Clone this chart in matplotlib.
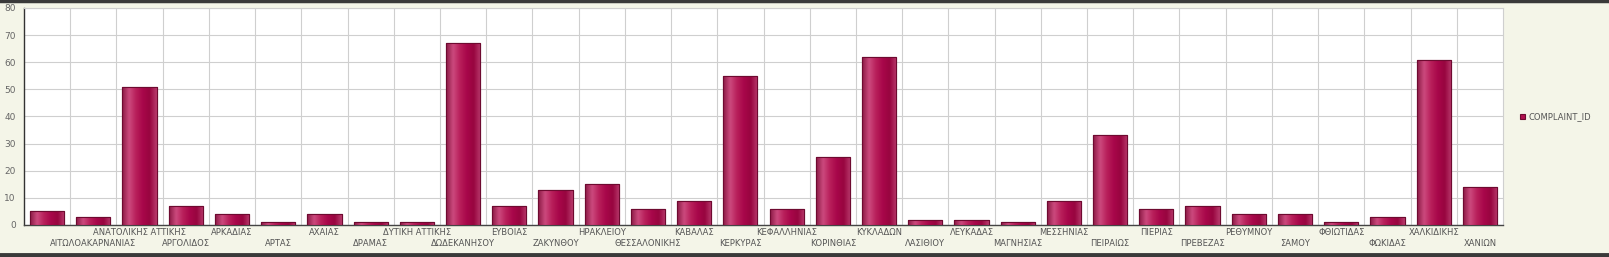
import numpy as np
import matplotlib
matplotlib.use("Agg")
import matplotlib.pyplot as plt
from matplotlib.colors import LinearSegmentedColormap
from matplotlib.patches import Rectangle
from matplotlib.lines import Line2D

# ==============================
# Data
# ==============================
prefectures = [
    "", "ΑΙΤΩΛΟΑΚΑΡΝΑΝΙΑΣ", "ΑΝΑΤΟΛΙΚΗΣ ΑΤΤΙΚΗΣ", "ΑΡΓΟΛΙΔΟΣ", "ΑΡΚΑΔΙΑΣ",
    "ΑΡΤΑΣ", "ΑΧΑΙΑΣ", "ΔΡΑΜΑΣ", "ΔΥΤΙΚΗ ΑΤΤΙΚΗΣ", "ΔΩΔΕΚΑΝΗΣΟΥ",
    "ΕΥΒΟΙΑΣ", "ΖΑΚΥΝΘΟΥ", "ΗΡΑΚΛΕΙΟΥ", "ΘΕΣΣΑΛΟΝΙΚΗΣ", "ΚΑΒΑΛΑΣ",
    "ΚΕΡΚΥΡΑΣ", "ΚΕΦΑΛΛΗΝΙΑΣ", "ΚΟΡΙΝΘΙΑΣ", "ΚΥΚΛΑΔΩΝ", "ΛΑΣΙΘΙΟΥ",
    "ΛΕΥΚΑΔΑΣ", "ΜΑΓΝΗΣΙΑΣ", "ΜΕΣΣΗΝΙΑΣ", "ΠΕΙΡΑΙΩΣ", "ΠΙΕΡΙΑΣ",
    "ΠΡΕΒΕΖΑΣ", "ΡΕΘΥΜΝΟΥ", "ΣΑΜΟΥ", "ΦΘΙΩΤΙΔΑΣ", "ΦΩΚΙΔΑΣ",
    "ΧΑΛΚΙΔΙΚΗΣ", "ΧΑΝΙΩΝ",
]
complaints = [
    5, 3, 51, 7, 4, 1, 4, 1, 1, 67,
    7, 13, 15, 6, 9, 55, 6, 25, 62, 2,
    2, 1, 9, 33, 6, 7, 4, 4, 1, 3,
    61, 14,
]
series_name = "COMPLAINT_ID"
y_ticks = [0, 10, 20, 30, 40, 50, 60, 70, 80]

# ==============================
# Figure
# ==============================
bg = "#f4f5e8"
fig = plt.figure(figsize=(16.09, 2.57), dpi=100, facecolor=bg)
ax = fig.add_axes([24 / 1609, 1 - 225 / 257, (1503 - 24) / 1609, 217 / 257])
ax.set_facecolor("white")

x = np.arange(len(prefectures))
bar_width = 0.74
bars = ax.bar(x, complaints, width=bar_width, color="#b0104f",
              edgecolor="#6e0a30", linewidth=0.8, zorder=3, label=series_name)

# shaded "3D" look on each bar
shade = LinearSegmentedColormap.from_list(
    "shade", ["#8c1a45", "#cc4a7e", "#b81f5a", "#a8074a", "#98053f", "#b83a6c"])
grad = np.linspace(0, 1, 64).reshape(1, -1)
for b in bars:
    bx, by = b.get_x(), b.get_y()
    bw, bh = b.get_width(), b.get_height()
    im = ax.imshow(grad, cmap=shade, aspect="auto", zorder=3.5,
                   extent=[bx, bx + bw, by, by + bh], interpolation="bicubic")
    im.set_clip_path(b)
    ax.add_patch(Rectangle((bx, by), bw, bh, fill=False,
                           edgecolor="#6e0a30", linewidth=0.8, zorder=4))

ax.set_xlim(-0.5, len(prefectures) - 0.5)
ax.set_ylim(0, 80)
ax.set_yticks(y_ticks)
ax.set_yticklabels([str(v) for v in y_ticks], fontsize=6.5, color="#666666")
ax.set_xticks(x)
ax.set_xticklabels(prefectures, fontsize=6, color="#555555")
for i, tick in enumerate(ax.xaxis.get_major_ticks()):
    tick.set_pad(2 if i % 2 == 0 else 10)
ax.tick_params(axis="both", length=0)
ax.tick_params(axis="y", pad=6)

# grid: vertical lines between categories, horizontal at each 10
ax.set_xticks(x[:-1] + 0.5, minor=True)
ax.grid(which="minor", axis="x", color="#cfcfcf", linewidth=0.8, zorder=0)
ax.grid(which="major", axis="y", color="#cfcfcf", linewidth=0.8, zorder=0)
ax.tick_params(which="minor", length=0)

for side in ["top", "right"]:
    ax.spines[side].set_color("#cfcfcf")
    ax.spines[side].set_linewidth(0.8)
ax.spines["left"].set_color("#333333")
ax.spines["bottom"].set_color("#444444")
ax.spines["left"].set_linewidth(1.0)
ax.spines["bottom"].set_linewidth(1.0)

fig.legend(handles=[bars], labels=[series_name], loc="center left",
           bbox_to_anchor=(1512 / 1609, 1 - 117 / 257), frameon=False,
           fontsize=6, handlelength=0.6, handleheight=0.6, handletextpad=0.5,
           labelcolor="#555555")

# dark bands at top and bottom of the picture
fig.add_artist(Line2D([0, 1], [1 - 1 / 257, 1 - 1 / 257], transform=fig.transFigure,
                      color="#3a3a3a", linewidth=2.5))
fig.add_artist(Line2D([0, 1], [2 / 257, 2 / 257], transform=fig.transFigure,
                      color="#3a3a3a", linewidth=3.5))

fig.savefig("out.png", dpi=100, facecolor=bg)
